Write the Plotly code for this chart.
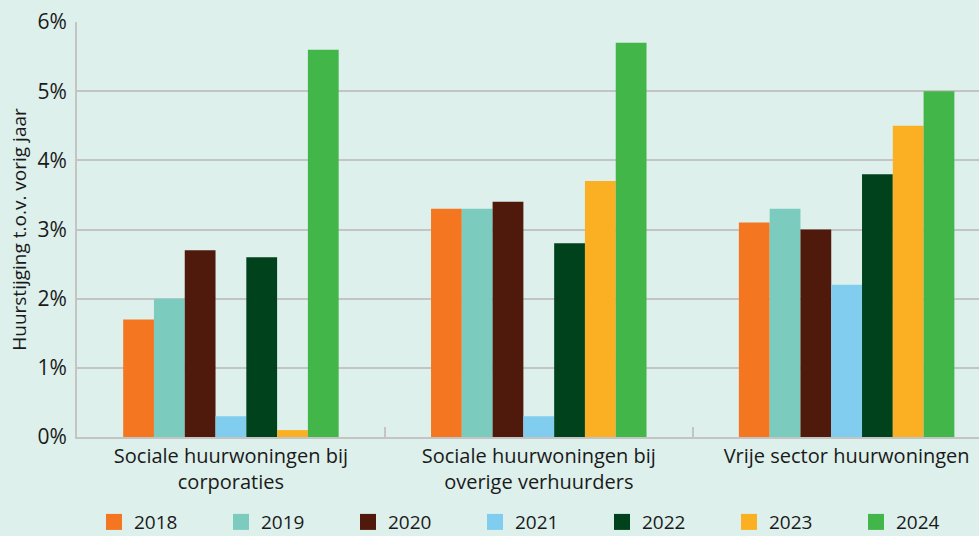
import plotly.graph_objects as go

categories = ["Sociale huurwoningen bij<br>corporaties",
              "Sociale huurwoningen bij<br>overige verhuurders",
              "Vrije sector huurwoningen"]
years = ["2018", "2019", "2020", "2021", "2022", "2023", "2024"]
values = {
    "2018": [1.7, 3.3, 3.1],
    "2019": [2.0, 3.3, 3.3],
    "2020": [2.7, 3.4, 3.0],
    "2021": [0.3, 0.3, 2.2],
    "2022": [2.6, 2.8, 3.8],
    "2023": [0.1, 3.7, 4.5],
    "2024": [5.6, 5.7, 5.0],
}
colors = ["#f47621", "#7ccbbf", "#4f1a0c", "#80cdf0", "#00421c", "#fbaf22", "#43b649"]
y_ticks = [0, 1, 2, 3, 4, 5, 6]
y_ticklabels = ["0%", "1%", "2%", "3%", "4%", "5%", "6%"]

bg = "#ddf0eb"
fig = go.Figure()
for yr, c in zip(years, colors):
    fig.add_trace(go.Bar(x=categories, y=values[yr], name=yr,
                         marker=dict(color=c, line=dict(width=0)), showlegend=False))
for yr, c in zip(years, colors):
    fig.add_trace(go.Scatter(x=[None], y=[None], mode="markers", name=yr,
                             marker=dict(symbol="square", size=24, color=c)))

fig.update_layout(
    width=979, height=536,
    paper_bgcolor=bg, plot_bgcolor=bg,
    margin=dict(l=77, r=0, t=22, b=99, autoexpand=False),
    barmode="group", bargap=0.3, bargroupgap=0,
    font=dict(family="Open Sans", color="#1a1a1a", size=20),
    showlegend=True,
    legend=dict(orientation="h", xref="container", yref="container",
                x=0.096, xanchor="left", y=0.026, yanchor="middle",
                entrywidth=82, font=dict(size=19), itemsizing="trace", itemwidth=30,
                bgcolor="rgba(0,0,0,0)"),
)
fig.update_xaxes(
    type="category", categoryorder="array", categoryarray=categories,
    range=[-0.5, 2.43],
    tickson="boundaries", ticks="inside", ticklen=10, tickcolor="#c4c4c4", tickwidth=2,
    showline=True, linecolor="#c4c4c4", linewidth=2, showgrid=False,
    tickfont=dict(size=20, color="#1a1a1a"),
)
fig.update_yaxes(
    range=[0, 6], tickvals=y_ticks, ticktext=y_ticklabels,
    showgrid=True, gridcolor="#c4c4c4", gridwidth=2,
    showline=True, linecolor="#c4c4c4", linewidth=2, zeroline=False,
    tickfont=dict(size=21, color="#1a1a1a"), ticks="", ticklabelstandoff=4,
    title=dict(text="Huurstijging t.o.v. vorig jaar", font=dict(size=19, color="#1a1a1a"), standoff=6),
)
fig.write_html("out.html", config={"displayModeBar": False},
               post_script="document.body.style.margin='0';document.body.style.overflow='hidden';")
